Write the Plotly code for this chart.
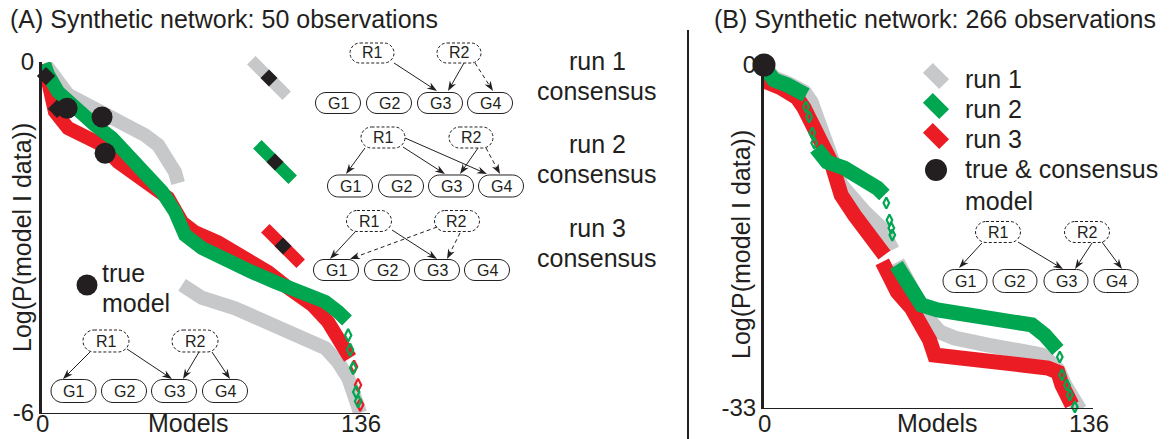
import plotly.graph_objects as go

# ---------------- DATA ----------------
# Panel A: 50 observations (Models 0..136, Log P from 0 to -6)
A_run1_x = [1.0, 2.6, 11.1, 18.3, 25.6, 34.1, 43.9, 49.5, 53.7, 56.7, 58.0, None,
            59.7, 68.2, 82.3, 96.4, 110.8, 120.7, 126.2, 130.5, 133.4, 135.6]
A_run1_y = [-0.05, -0.10, -0.56, -0.70, -0.85, -1.03, -1.25, -1.42, -1.64, -1.88, -2.07, None,
            -3.81, -4.03, -4.21, -4.44, -4.67, -4.89, -5.13, -5.40, -5.74, -6.0]
A_run2_x = [0.9, 2.6, 6.8, 14.1, 22.6, 29.8, 36.7, 43.9, 51.2, 56.7, 61.0, 68.2, 79.3,
            89.5, 99.3, 110.8, 120.7, 126.2, 130.0]
A_run2_y = [-0.03, -0.22, -0.51, -0.79, -1.08, -1.30, -1.59, -1.93, -2.22, -2.56, -2.96,
            -3.18, -3.42, -3.59, -3.76, -3.93, -4.10, -4.27, -4.42]
A_run2_tail_x = [130.5, 131.3, 132.6, 133.9, 134.7]
A_run2_tail_y = [-4.67, -4.92, -5.23, -5.64, -5.80]
A_run3_x = [0.9, 3.4, 5.5, 11.1, 18.3, 25.6, 32.4, 39.6, 46.9, 53.7, 59.7, 65.2, 75.0,
            85.3, 96.4, 104.9, 115.1, 121.9, 127.9, 131.3]
A_run3_y = [-0.03, -0.51, -0.85, -1.13, -1.28, -1.42, -1.71, -1.93, -2.10, -2.32, -2.74,
            -2.91, -3.08, -3.30, -3.59, -3.86, -4.15, -4.44, -4.84, -5.06]
A_run3_tail_x = [133.0, 134.7, 135.6]
A_run3_tail_y = [-5.21, -5.52, -5.86]
A_true_x = [10.7, 25.6, 26.9]
A_true_y = [-0.79, -0.94, -1.56]
A_cons_x = [1.7, 6.4]
A_cons_y = [-0.24, -0.80]

# Panel B: 266 observations (Models 0..136, Log P from 0 to -33)
B_run1_x = [0.0, 4.2, 10.5, 16.8, 19.7, 22.3, 25.2, 28.1, 32.3, 42.0, 49.1, 53.7, None,
            55.8, 58.8, 61.7, 65.1, 68.4, 73.5, 79.8, 93.6, 107.9, 116.3, 118.8, 123.0,
            125.9, 128.9, 132.2]
B_run1_y = [-0.1, -1.25, -1.83, -2.60, -3.56, -5.29, -7.22, -8.66, -11.55, -14.14, -15.68,
            -17.80, None, -18.95, -20.20, -21.45, -23.09, -24.34, -25.69, -26.27, -26.94,
            -27.42, -27.90, -28.38, -29.3, -30.79, -32.04, -33.19]
B_run2_x = [0.3, 4.2, 9.7, 15.5, 17.6, None, 21.8, 26.4, 33.6, 42.0, 47.4, 50.4, None,
            55.4, 58.8, 61.7, 65.9, 72.6, 86.9, 100.8, 112.1, 117.5, 121.7, 123.0]
B_run2_y = [-0.3, -1.44, -1.92, -2.60, -2.89, None, -7.99, -9.33, -9.91, -10.87, -11.83,
            -12.51, None, -19.24, -20.49, -21.84, -23.09, -23.57, -24.05, -24.53, -25.01,
            -25.98, -26.94, -27.42]
B_run2_tail_x = [17.6, 18.9, 20.2, 21.0, 51.2, 52.5, 53.3, 53.7,
                 123.8, 124.7, 126.8, 128.0, 130.1]
B_run2_tail_y = [-4.04, -5.00, -6.54, -7.50, -13.28, -14.91, -15.68, -16.36,
                 -28.09, -29.82, -30.79, -31.75, -32.90]
B_run3_x = [0.0, 1.3, 7.1, 13.9, 16.8, 19.7, 23.9, 28.1, 30.2, 32.3, 37.8, 43.2, 49.1, 50.4,
            None, 49.5, 51.6, 55.8, 61.7, 67.2, 69.3, 71.4, 79.8, 93.6, 107.9, 118.8, 123.0,
            124.7, 126.8, 128.9]
B_run3_y = [-0.29, -1.64, -2.21, -3.17, -4.14, -5.77, -7.41, -9.33, -11.26, -12.51, -14.43,
            -16.07, -17.61, -18.28, None, -18.95, -20.20, -21.84, -23.38, -25.30, -26.46,
            -27.90, -28.19, -28.57, -28.86, -29.15, -29.54, -30.79, -31.75, -32.71]
B_true_x = [0.0]
B_true_y = [0.0]

x_ticks = [0, 136]
A_y_ticks = [-6, 0]
B_y_ticks = [-33, 0]

# ---------------- STYLE ----------------
W, H = 1172, 439
GRAY, GREEN, RED, BLACK = "#C7C8CA", "#00A650", "#EC1C24", "#231F20"
FONT = "Liberation Sans, Arial, Helvetica, sans-serif"


def P(x, y):
    return x / W, 1 - y / H


def fmt(x, y):
    a, b = P(x, y)
    return f"{a:.5f},{b:.5f}"


shapes = []
annotations = []


def pill(cx, cy, w, h, dashed=False):
    r = h / 2
    k = 0.5523 * r
    l, rr, t, b = cx - w / 2, cx + w / 2, cy - h / 2, cy + h / 2
    path = (f"M{fmt(l + r, t)} L{fmt(rr - r, t)} "
            f"C{fmt(rr - r + k, t)} {fmt(rr, cy - k)} {fmt(rr, cy)} "
            f"C{fmt(rr, cy + k)} {fmt(rr - r + k, b)} {fmt(rr - r, b)} "
            f"L{fmt(l + r, b)} "
            f"C{fmt(l + r - k, b)} {fmt(l, cy + k)} {fmt(l, cy)} "
            f"C{fmt(l, cy - k)} {fmt(l + r - k, t)} {fmt(l + r, t)} Z")
    shapes.append(dict(type="path", path=path, xref="paper", yref="paper",
                       fillcolor="white",
                       line=dict(color=BLACK, width=1, dash="3px,2px" if dashed else "solid")))


def text(x, y, s, size=25, anchor="center", angle=0, yanchor="middle"):
    a, b = P(x, y)
    annotations.append(dict(x=a, y=b, xref="paper", yref="paper", text=s, showarrow=False,
                            xanchor=anchor, yanchor=yanchor, textangle=angle,
                            font=dict(family=FONT, size=size, color=BLACK)))


def arrow(x0, y0, x1, y1, dashed=False):
    dx, dy = x1 - x0, y1 - y0
    n = (dx * dx + dy * dy) ** 0.5
    ux, uy = dx / n, dy / n
    px_, py_ = -uy, ux
    ex, ey = x1 - 6 * ux, y1 - 6 * uy
    a0, b0 = P(x0, y0)
    a1, b1 = P(ex, ey)
    shapes.append(dict(type="line", x0=a0, y0=b0, x1=a1, y1=b1, xref="paper", yref="paper",
                       line=dict(color=BLACK, width=1, dash="4px,3px" if dashed else "solid")))
    bx, by = x1 - 10 * ux, y1 - 10 * uy
    nx, ny = x1 - 7 * ux, y1 - 7 * uy
    path = (f"M{fmt(x1, y1)} L{fmt(bx + 3.6 * px_, by + 3.6 * py_)} L{fmt(nx, ny)} "
            f"L{fmt(bx - 3.6 * px_, by - 3.6 * py_)} Z")
    shapes.append(dict(type="path", path=path, xref="paper", yref="paper",
                       fillcolor=BLACK, line=dict(width=0)))


def network(gx, gy, gw, gh, rx, ry, rw, rh, arrows):
    for i, g in enumerate(["G1", "G2", "G3", "G4"]):
        pill(gx[i], gy, gw, gh)
        text(gx[i], gy, g, size=16)
    for i, rname in enumerate(["R1", "R2"]):
        pill(rx[i], ry, rw, rh, dashed=True)
        text(rx[i], ry, rname, size=16)
    for a in arrows:
        arrow(*a)


def bar(cx, cy, length, width, color, square=False):
    d = 0.7071
    a0, b0 = P(cx - length / 2 * d, cy - length / 2 * d)
    a1, b1 = P(cx + length / 2 * d, cy + length / 2 * d)
    shapes.append(dict(type="line", x0=a0, y0=b0, x1=a1, y1=b1, xref="paper", yref="paper",
                       line=dict(color=color, width=width)))
    if square:
        s = width / 2
        ux, uy, vx, vy = d, d, -d, d
        pts = [(cx + s * ux + s * vx, cy + s * uy + s * vy), (cx + s * ux - s * vx, cy + s * uy - s * vy),
               (cx - s * ux - s * vx, cy - s * uy - s * vy), (cx - s * ux + s * vx, cy - s * uy + s * vy)]
        path = "M" + " L".join(fmt(*p) for p in pts) + " Z"
        shapes.append(dict(type="path", path=path, xref="paper", yref="paper",
                           fillcolor=BLACK, line=dict(width=0)))


def dot(cx, cy, r):
    a0, b0 = P(cx - r, cy + r)
    a1, b1 = P(cx + r, cy - r)
    shapes.append(dict(type="circle", x0=a0, y0=b0, x1=a1, y1=b1, xref="paper", yref="paper",
                       fillcolor=BLACK, line=dict(width=0)))


# ---------------- TRACES ----------------
fig = go.Figure()


def band(x, y, color, width, xa, ya):
    fig.add_trace(go.Scatter(x=x, y=y, mode="lines", line=dict(color=color, width=width),
                             connectgaps=False, xaxis=xa, yaxis=ya, hoverinfo="skip"))


def hollow(x, y, color, xa, ya, size=9):
    fig.add_trace(go.Scatter(x=x, y=y, mode="markers", cliponaxis=False,
                             marker=dict(symbol="diamond-tall-open", size=size, color=color,
                                         line=dict(color=color, width=2.2)),
                             xaxis=xa, yaxis=ya, hoverinfo="skip"))


# Panel A
band(A_run1_x, A_run1_y, GRAY, 14, "x", "y")
band(A_run3_x, A_run3_y, RED, 14, "x", "y")
hollow(A_run3_tail_x, A_run3_tail_y, RED, "x", "y")
band(A_run2_x, A_run2_y, GREEN, 14, "x", "y")
hollow(A_run2_tail_x, A_run2_tail_y, GREEN, "x", "y")
fig.add_trace(go.Scatter(x=A_cons_x, y=A_cons_y, mode="markers", cliponaxis=False,
                         marker=dict(symbol="diamond", size=14, color=BLACK),
                         xaxis="x", yaxis="y", hoverinfo="skip"))
fig.add_trace(go.Scatter(x=A_true_x, y=A_true_y, mode="markers", cliponaxis=False,
                         marker=dict(symbol="circle", size=21, color=BLACK),
                         xaxis="x", yaxis="y", hoverinfo="skip"))

# Panel B
band(B_run1_x, B_run1_y, GRAY, 15, "x2", "y2")
band(B_run3_x, B_run3_y, RED, 15, "x2", "y2")
band(B_run2_x, B_run2_y, GREEN, 15, "x2", "y2")
hollow(B_run2_tail_x, B_run2_tail_y, GREEN, "x2", "y2", size=8)
fig.add_trace(go.Scatter(x=B_true_x, y=B_true_y, mode="markers", cliponaxis=False,
                         marker=dict(symbol="circle", size=23, color=BLACK),
                         xaxis="x2", yaxis="y2", hoverinfo="skip"))

# ---------------- DECORATIONS ----------------
text(8, 19, "(A) Synthetic network: 50 observations", size=25, anchor="left")
text(712, 19, "(B) Synthetic network: 266 observations", size=25, anchor="left")
shapes.append(dict(type="line", x0=688 / W, x1=688 / W, y0=0, y1=1 - 30 / H,
                   xref="paper", yref="paper", line=dict(color=BLACK, width=2)))
text(22, 238, "Log(P(model I data))", size=25, angle=-90)
text(741, 245, "Log(P(model I data))", size=25, angle=-90)
text(188, 438.5, "Models", size=25, yanchor="bottom")
text(937, 438.5, "Models", size=25, yanchor="bottom")

# x tick labels placed on the data axes
for xa in ("x", "x2"):
    for v in x_ticks:
        annotations.append(dict(x=v, xref=xa, y=0.5 / H, yref="paper", text=str(v),
                                showarrow=False, xanchor="center", yanchor="bottom",
                                font=dict(family=FONT, size=24, color=BLACK)))

# Panel A legend / consensus networks
bar(269, 78, 50, 12, GRAY, square=True)
bar(275, 162, 50, 12, GREEN, square=True)
bar(283, 246, 50, 12, RED, square=True)
text(597, 61, "run 1")
text(597, 91, "consensus")
text(597, 144, "run 2")
text(597, 174, "consensus")
text(597, 228, "run 3")
text(597, 258, "consensus")

network([338, 389, 440, 490], 103, 45, 21, [372, 459], 53, 44, 20,
        [(394, 63, 437, 91), (464, 63, 448, 91), (475, 63, 493, 91, True)])
network([350, 401, 451, 501], 186, 45, 22, [383, 471], 137.5, 44, 21,
        [(365, 148, 346, 174), (403, 147, 445, 174), (405, 138, 487, 174),
         (478, 148, 460, 174), (486, 148, 500, 174, True)])
network([336, 387, 437, 487], 270, 45, 21, [369, 457], 221, 45, 21,
        [(355, 232, 330, 259), (437, 227, 350, 259, True), (392, 230, 437, 259),
         (460, 233, 447, 259, True)])

dot(87, 285, 10.5)
text(100, 273, "true", anchor="left")
text(100, 303, "model", anchor="left")
network([73.5, 124, 174, 225], 391, 45, 23, [106, 195], 341, 46, 22,
        [(90, 352, 63, 379), (127, 349, 172, 379), (199, 352, 183, 379), (212, 352, 230, 379)])

# Panel B legend
bar(936, 76, 23, 14, GRAY)
bar(936, 106, 23, 14, GREEN)
bar(936, 136, 23, 14, RED)
dot(936, 170, 11)
text(963, 79, "run 1", anchor="left")
text(963, 109, "run 2", anchor="left")
text(963, 139, "run 3", anchor="left")
text(963, 169, "true & consensus", anchor="left")
text(963, 201, "model", anchor="left")
network([965, 1015, 1066, 1116], 281, 44, 23, [998, 1087], 232, 45, 21,
        [(982, 243, 959, 268), (1018, 242, 1063, 269), (1092, 243, 1075, 269),
         (1102, 242, 1122, 269)])

# ---------------- LAYOUT ----------------
axis_common = dict(showgrid=False, zeroline=False, ticks="", color=BLACK, automargin=False,
                   tickfont=dict(family=FONT, size=24, color=BLACK), fixedrange=True)

fig.update_layout(
    width=W, height=H, margin=dict(l=0, r=0, t=0, b=0, pad=0, autoexpand=False),
    paper_bgcolor="white", plot_bgcolor="white", showlegend=False,
    font=dict(family=FONT, color=BLACK),
    xaxis=dict(domain=[42 / W, 370 / W], range=[0, 139.8], anchor="y",
               showline=True, linewidth=1, linecolor=BLACK, showticklabels=False,
               tickvals=x_ticks, **axis_common),
    yaxis=dict(domain=[1 - 413 / H, 1 - 62 / H], range=[-6, 0], anchor="x",
               showline=True, linewidth=3, linecolor=BLACK,
               tickvals=A_y_ticks, ticktext=[str(v) for v in A_y_ticks], **axis_common),
    xaxis2=dict(domain=[764 / W, 1093 / W], range=[0, 137.7], anchor="y2",
                showline=True, linewidth=1, linecolor=BLACK, showticklabels=False,
                tickvals=x_ticks, **axis_common),
    yaxis2=dict(domain=[1 - 408 / H, 1 - 65 / H], range=[-33, 0], anchor="x2",
                showline=True, linewidth=3, linecolor=BLACK,
                tickvals=B_y_ticks, ticktext=[str(v) for v in B_y_ticks], **axis_common),
    shapes=shapes, annotations=annotations,
)

fig.write_html("out.html", config={"responsive": False, "displayModeBar": False},
               post_script="document.documentElement.style.margin='0';"
                           "document.body.style.margin='0';"
                           "document.body.style.overflow='hidden';")
